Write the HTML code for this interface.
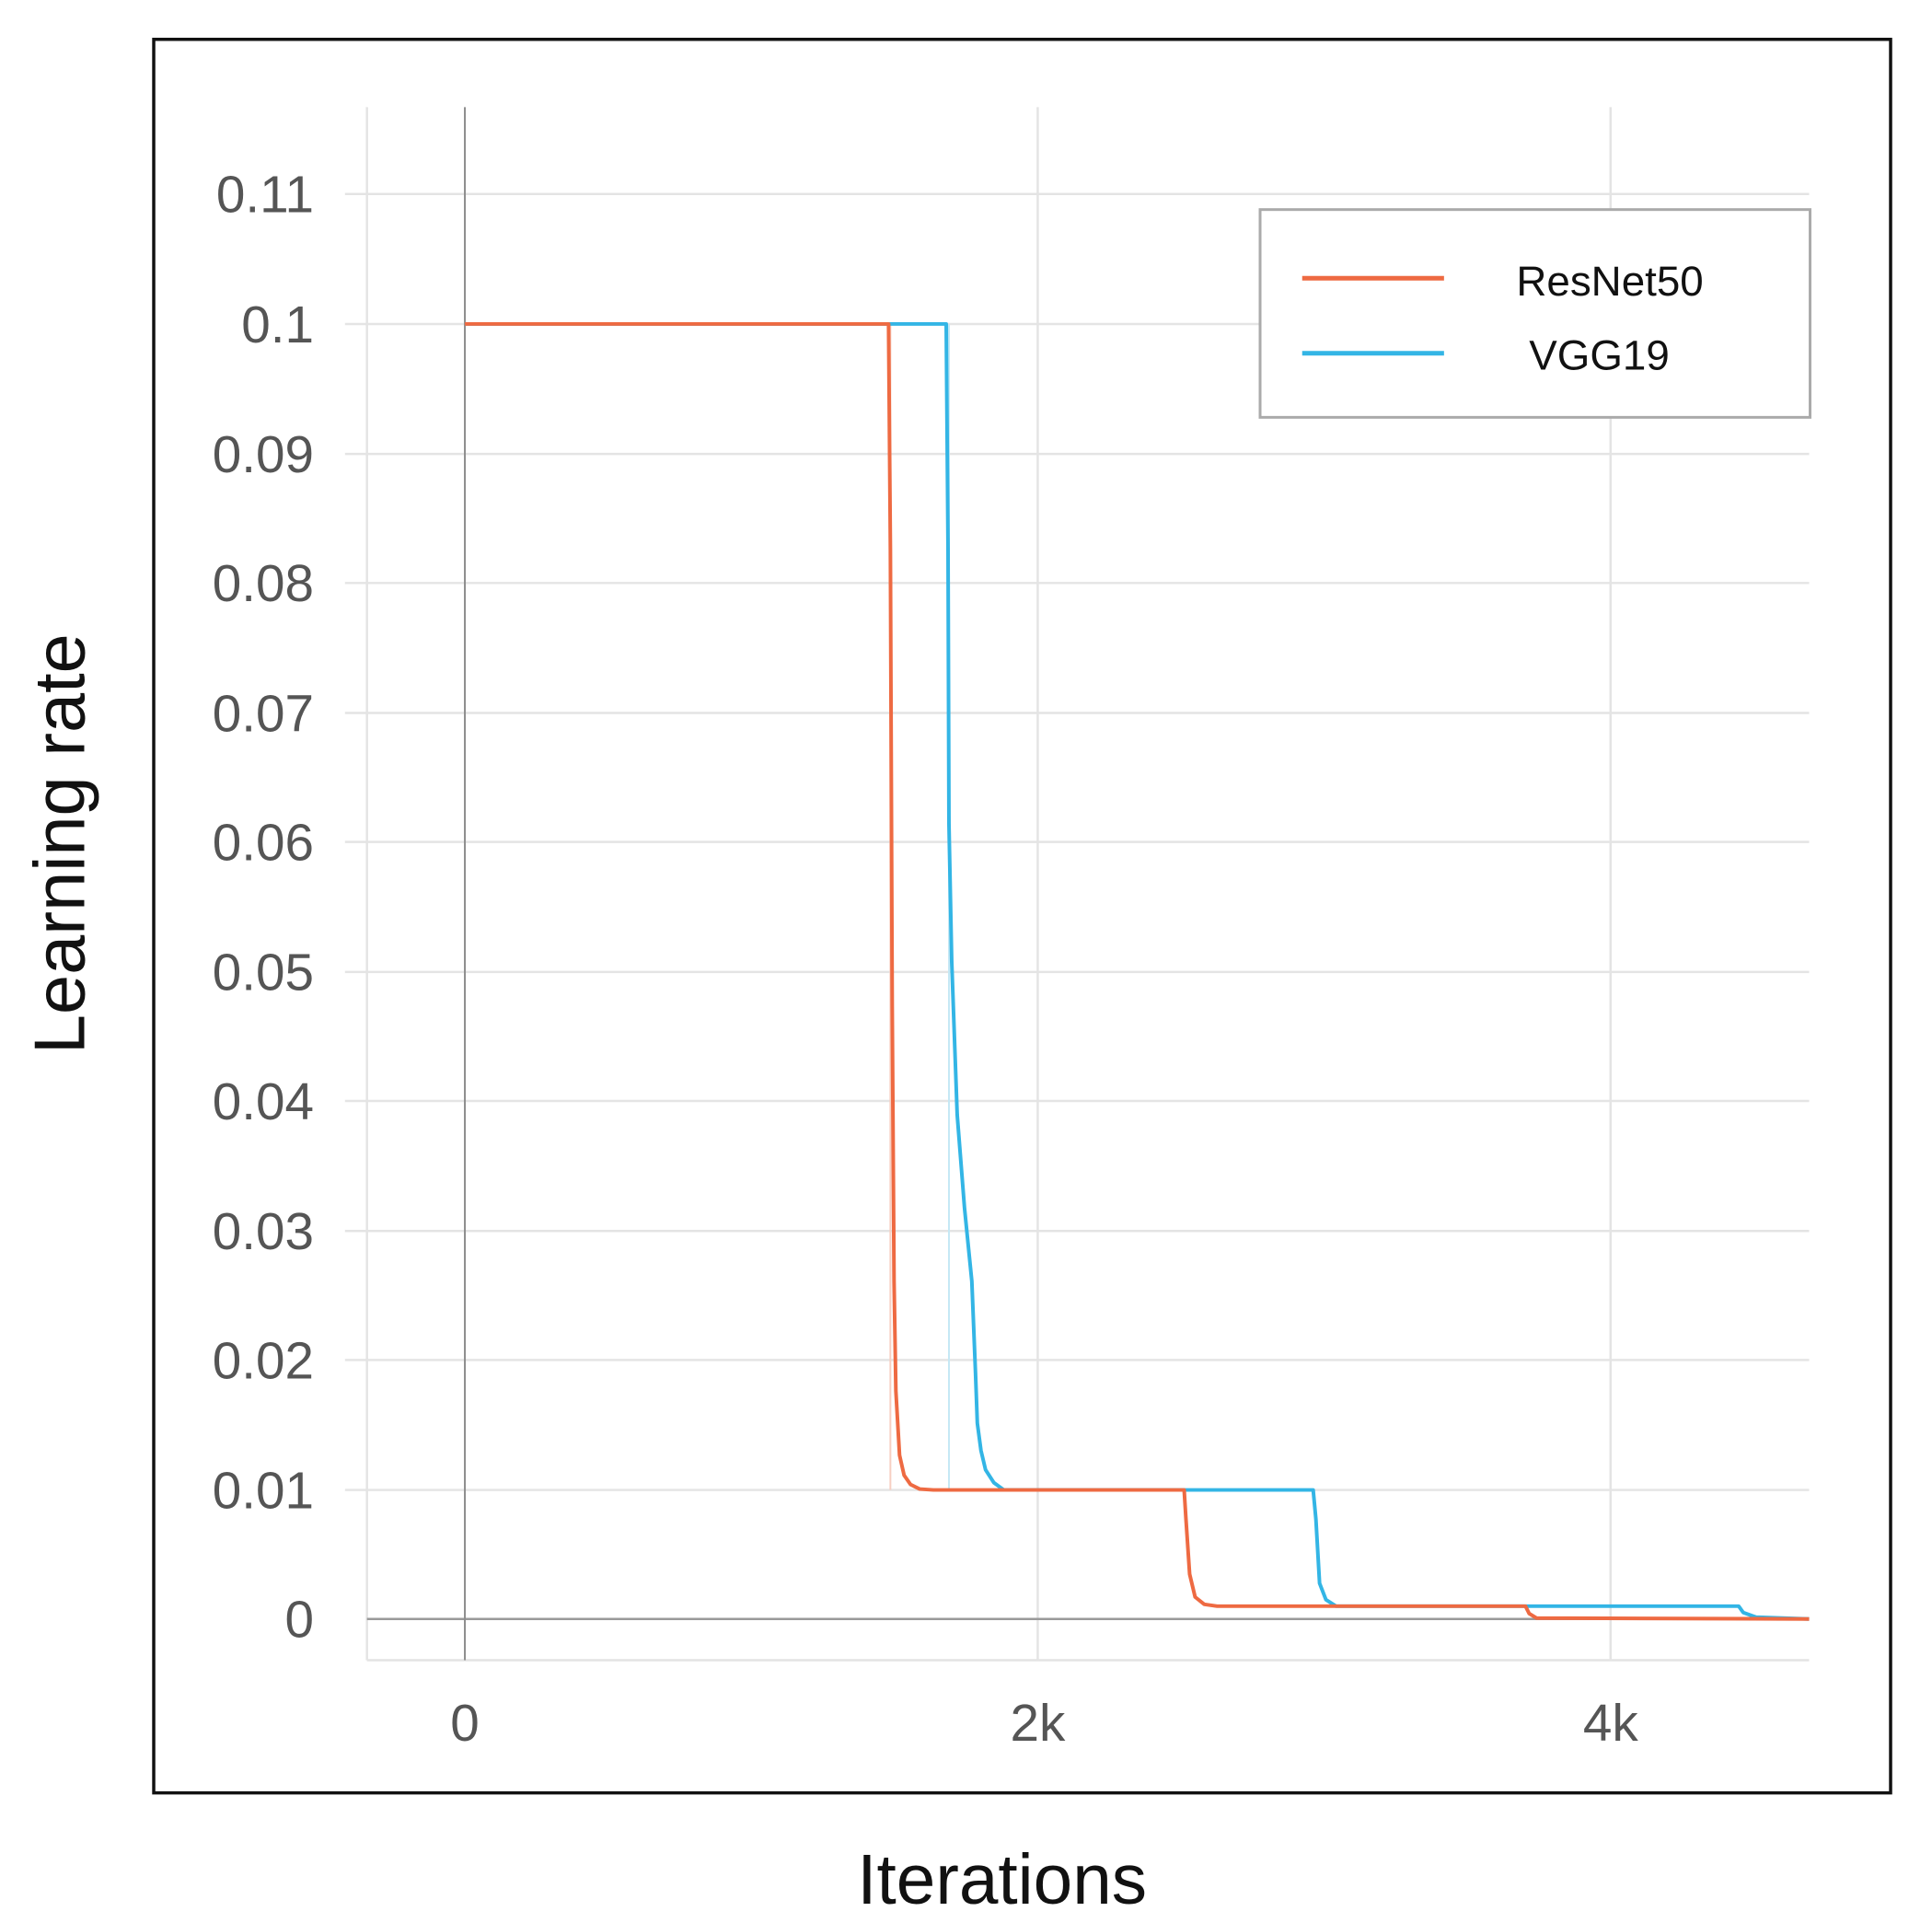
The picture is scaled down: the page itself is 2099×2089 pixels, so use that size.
<!DOCTYPE html>
<html><head><meta charset="utf-8"><style>html,body{margin:0;padding:0;background:#fff}svg{display:block}</style></head>
<body>
<svg width="2099" height="2089" viewBox="0 0 2099 2089" xmlns="http://www.w3.org/2000/svg" font-family="Liberation Sans, sans-serif">
<rect x="0" y="0" width="2099" height="2089" fill="#fff"/>
<g transform="scale(0.9942)">
<rect x="168" y="43" width="1898" height="1916" fill="none" stroke="#111" stroke-width="3.5"/>
<g stroke="#e4e4e4" stroke-width="2.5">
<line x1="377" y1="212" x2="1977" y2="212"/>
<line x1="377" y1="354" x2="1977" y2="354"/>
<line x1="377" y1="496" x2="1977" y2="496"/>
<line x1="377" y1="637" x2="1977" y2="637"/>
<line x1="377" y1="779" x2="1977" y2="779"/>
<line x1="377" y1="920" x2="1977" y2="920"/>
<line x1="377" y1="1062" x2="1977" y2="1062"/>
<line x1="377" y1="1203" x2="1977" y2="1203"/>
<line x1="377" y1="1345" x2="1977" y2="1345"/>
<line x1="377" y1="1486" x2="1977" y2="1486"/>
<line x1="377" y1="1628" x2="1977" y2="1628"/>
<line x1="401" y1="1814" x2="1977" y2="1814"/>
<line x1="401" y1="117" x2="401" y2="1814"/>
<line x1="1134" y1="117" x2="1134" y2="1814"/>
<line x1="1760" y1="117" x2="1760" y2="1814"/>
</g>
<line x1="401" y1="1769" x2="1977" y2="1769" stroke="#9a9a9a" stroke-width="2.5"/>
<line x1="508" y1="117" x2="508" y2="1814" stroke="#8c8c8c" stroke-width="2"/>
<g font-size="57" fill="#555" text-anchor="end">
<text x="343" y="232">0.11</text>
<text x="343" y="374">0.1</text>
<text x="343" y="516">0.09</text>
<text x="343" y="657">0.08</text>
<text x="343" y="799">0.07</text>
<text x="343" y="940">0.06</text>
<text x="343" y="1082">0.05</text>
<text x="343" y="1223">0.04</text>
<text x="343" y="1365">0.03</text>
<text x="343" y="1506">0.02</text>
<text x="343" y="1648">0.01</text>
<text x="343" y="1789">0</text>
</g>
<g font-size="57" fill="#555" text-anchor="middle">
<text x="508" y="1902">0</text>
<text x="1134" y="1902">2k</text>
<text x="1760" y="1902">4k</text>
</g>
<line x1="973" y1="354" x2="973" y2="1628" stroke="#f7cfc2" stroke-width="2"/>
<line x1="1037" y1="354" x2="1037" y2="1628" stroke="#c5e8f5" stroke-width="2"/>
<polyline fill="none" stroke="#33b5e5" stroke-width="4" stroke-linejoin="round" points="508,354 1034,354 1036,600 1037,900 1040,1050 1046,1218 1054,1320 1062,1400 1066,1500 1068,1555 1072,1585 1077,1606 1086,1620 1097,1628 1435,1628 1438,1660 1442,1730 1449,1748 1460,1755 1900,1755 1905,1762 1919,1767 1977,1769"/>
<polyline fill="none" stroke="#ee6a42" stroke-width="4" stroke-linejoin="round" points="508,354 971,354 973,600 975,1100 977,1400 979,1520 983,1590 988,1612 995,1622 1005,1627 1020,1628 1294,1628 1296,1660 1300,1720 1306,1745 1316,1753 1330,1755 1667,1755 1671,1763 1679,1768 1977,1769"/>
<rect x="1377" y="229" width="601" height="227" fill="#fff" stroke="#aaa" stroke-width="3"/>
<line x1="1423" y1="304" x2="1578" y2="304" stroke="#ee6a42" stroke-width="5"/>
<line x1="1423" y1="386" x2="1578" y2="386" stroke="#33b5e5" stroke-width="5"/>
<g font-size="46" fill="#111">
<text x="1657" y="323">ResNet50</text>
<text x="1671" y="404">VGG19</text>
</g>
<text x="1095" y="2080" font-size="77" text-anchor="middle" fill="#111">Iterations</text>
<text transform="translate(92,922) rotate(-90)" font-size="78" text-anchor="middle" fill="#111">Learning rate</text>
</g>
</svg>
</body></html>
